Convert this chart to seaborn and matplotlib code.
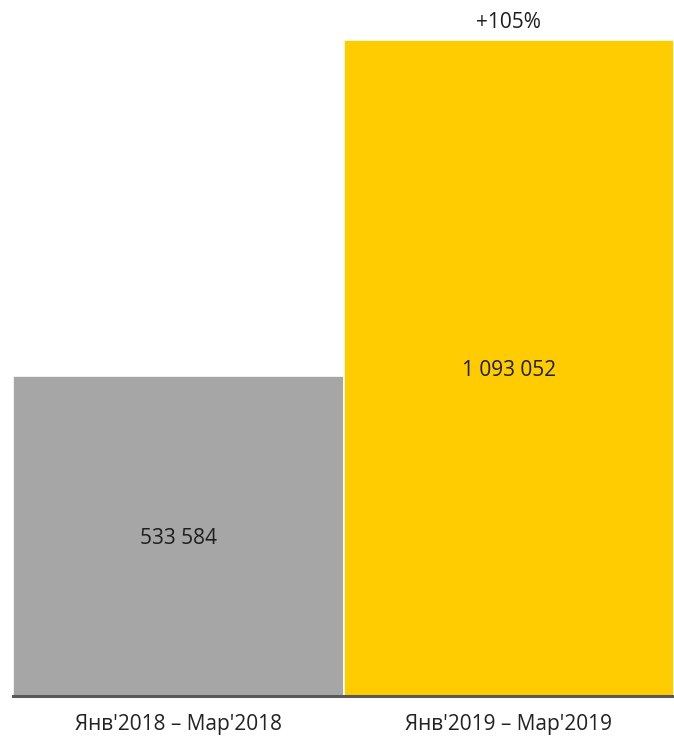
import matplotlib
matplotlib.use("Agg")
import matplotlib.pyplot as plt
import seaborn as sns
import pandas as pd

# Data
periods = ["Янв'2018 – Мар'2018", "Янв'2019 – Мар'2019"]
values = [533584, 1093052]
value_labels = ["533 584", "1 093 052"]
growth_label = "+105%"
bar_colors = ["#a6a6a6", "#fecc00"]

sns.set_theme(style="white")
plt.rcParams["font.family"] = ["Open Sans", "DejaVu Sans"]

W, H = 674, 739
fig = plt.figure(figsize=(W / 100, H / 100), dpi=100)
left, right, bottom, top = 13, 674, 696, 40
ax = fig.add_axes([left / W, 1 - bottom / H, (right - left) / W, (bottom - top) / H])

df = pd.DataFrame({"period": periods, "value": values})
sns.barplot(data=df, x="period", y="value", hue="period", palette=bar_colors,
            width=1.0, dodge=False, legend=False, ax=ax,
            edgecolor="white", linewidth=1.2, saturation=1)

ax.set_xlim(-0.5, 1.5)
ax.set_ylim(0, max(values))
for s in ["top", "right", "left"]:
    ax.spines[s].set_visible(False)
ax.spines["bottom"].set_color("#595959")
ax.spines["bottom"].set_linewidth(2.2)
ax.set_yticks([])
ax.set_xlabel("")
ax.set_ylabel("")
ax.tick_params(axis="x", length=0, pad=13, labelsize=15, labelcolor="#222222")

text_color = "#1e1e1e"
for i, (v, lab) in enumerate(zip(values, value_labels)):
    ax.text(i, v / 2, lab, ha="center", va="center_baseline", fontsize=15, color=text_color)

ax.annotate(growth_label, xy=(1, values[1]), xytext=(0, 5), textcoords="offset points",
            ha="center", va="bottom", fontsize=15, color=text_color,
            annotation_clip=False)

fig.savefig("out.png", dpi=100)
